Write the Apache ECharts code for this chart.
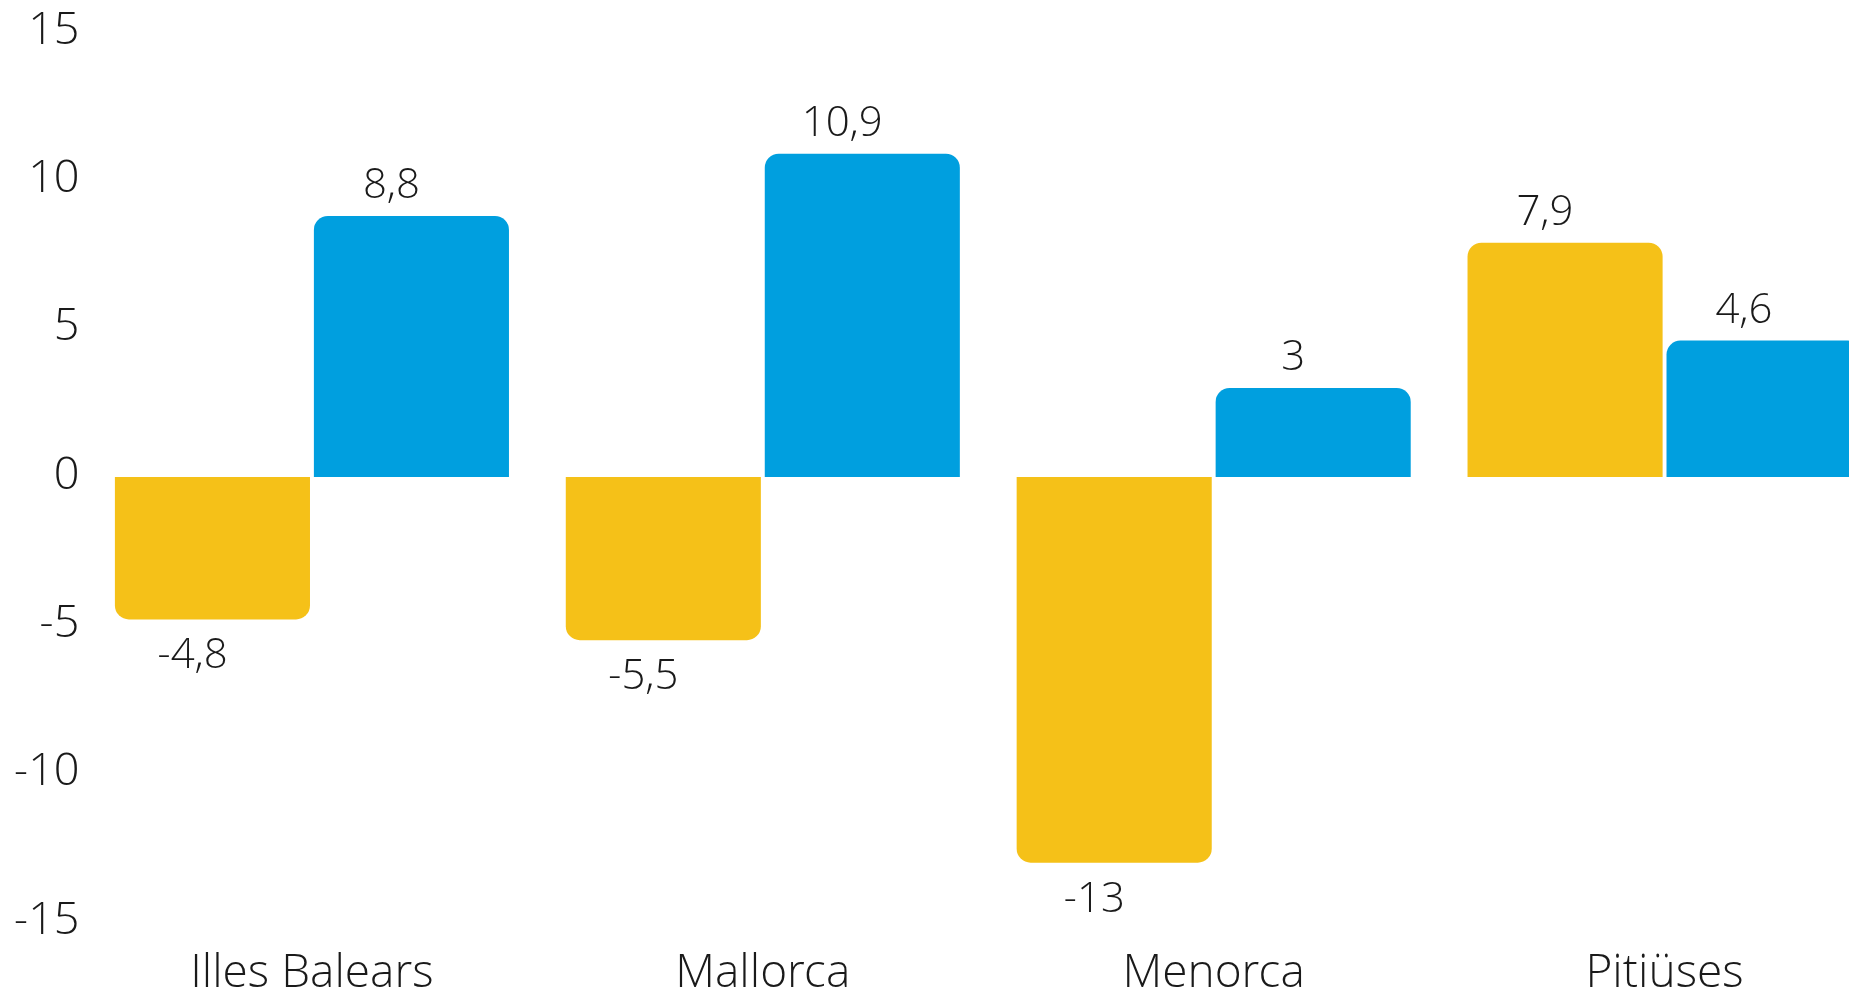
<!DOCTYPE html>
<html>
<head>
<meta charset="utf-8">
<script src="https://cdn.jsdelivr.net/npm/echarts@6/dist/echarts.min.js"></script>
<style>
html,body{margin:0;padding:0;background:#fff;overflow:hidden;width:1849px;height:998px;}
#chart{width:1890px;height:998px;}
</style>
</head>
<body>
<div id="chart"></div>
<script>
var categories = ['Illes Balears', 'Mallorca', 'Menorca', 'Pitiüses'];
var seriesA = [-4.8, -5.5, -13, 7.9];
var seriesB = [8.8, 10.9, 3, 4.6];
var yTicks = [-15, -10, -5, 0, 5, 10, 15];

var YELLOW = '#F5C118';
var BLUE = '#009FDF';
var TEXT = '#1a1a1a';
var FONT = '"Open Sans Light", "Open Sans", "Noto Sans", sans-serif';
var R = 14;

function fmt(v) { return String(v).replace('.', ','); }
function toItems(arr) {
  return arr.map(function (v) {
    return {
      value: v,
      itemStyle: { borderRadius: v < 0 ? [0, 0, R, R] : [R, R, 0, 0] },
      label: { position: v < 0 ? 'bottom' : 'top', distance: v < 0 ? 17 : 8 }
    };
  });
}

var chart = echarts.init(document.getElementById('chart'), null, { renderer: 'canvas' });
var labelCfg = {
  show: true,
  offset: [-20, 0],
  fontFamily: FONT,
  fontWeight: 300,
  fontSize: 42,
  color: TEXT,
  formatter: function (p) { return fmt(p.value); }
};
chart.setOption({
  animation: false,
  backgroundColor: '#ffffff',
  grid: { left: 86.5, right: 0, top: 32, bottom: 66, containLabel: false },
  xAxis: {
    type: 'category',
    data: categories,
    axisLine: { show: false },
    axisTick: { show: false },
    splitLine: { show: false },
    axisLabel: { fontFamily: FONT, fontWeight: 300, fontSize: 46, color: TEXT, margin: 30, interval: 0 }
  },
  yAxis: {
    type: 'value',
    min: yTicks[0],
    max: yTicks[yTicks.length - 1],
    interval: 5,
    axisLine: { show: false },
    axisTick: { show: false },
    splitLine: { show: false },
    axisLabel: { fontFamily: FONT, fontWeight: 300, fontSize: 45, color: TEXT, margin: 7, padding: [6, 0, 0, 0] }
  },
  series: [
    {
      name: 'A', type: 'bar', data: toItems(seriesA),
      barGap: '2%', barCategoryGap: '12.6%',
      itemStyle: { color: YELLOW },
      label: labelCfg
    },
    {
      name: 'B', type: 'bar', data: toItems(seriesB),
      itemStyle: { color: BLUE },
      label: labelCfg
    }
  ]
});
</script>
</body>
</html>
